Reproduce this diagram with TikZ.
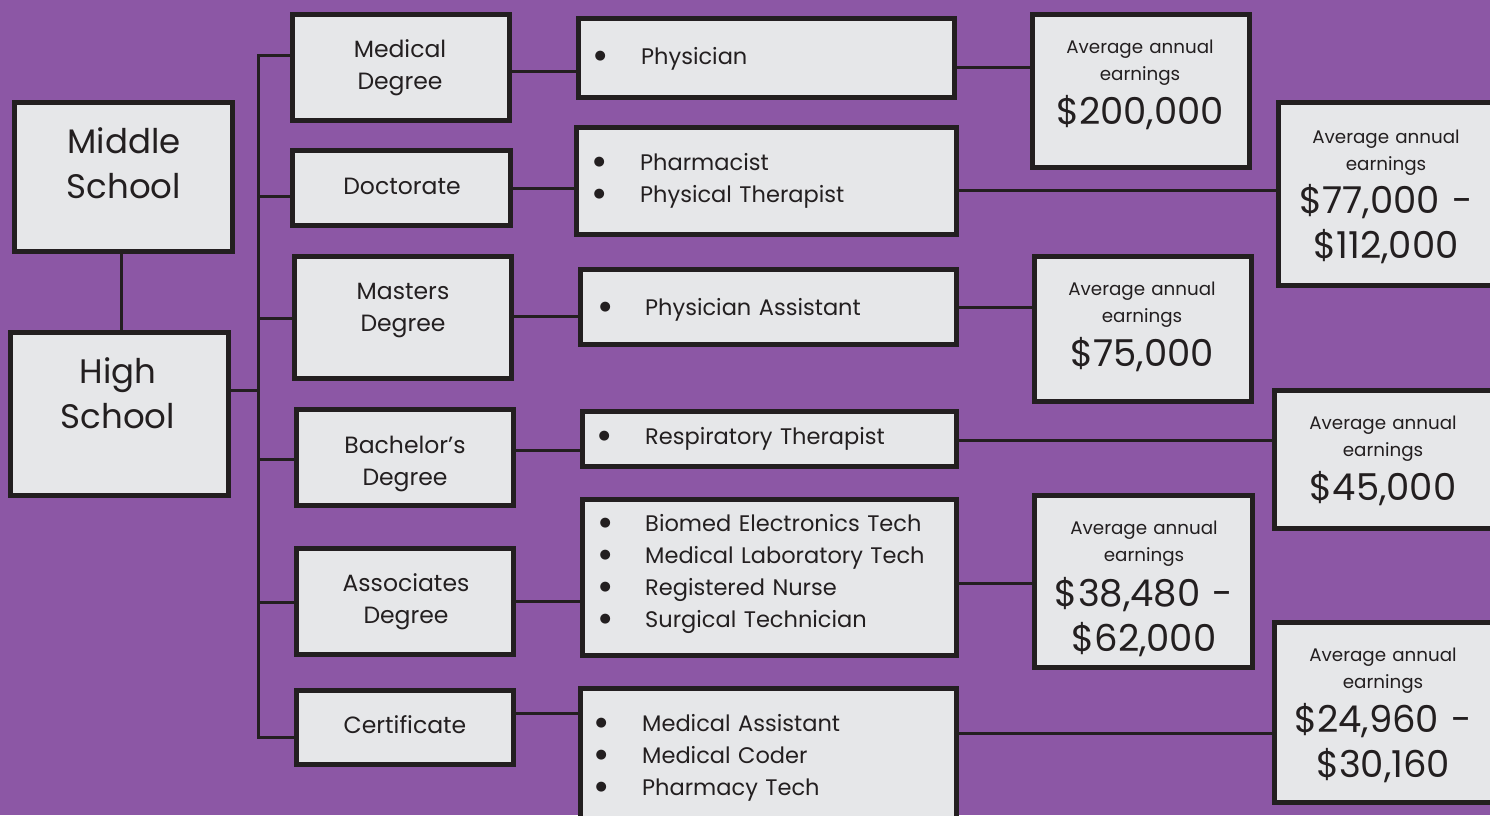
\documentclass[tikz,border=0pt]{standalone}
\usepackage{fontspec}
\setmainfont{Poppins}
\newfontfamily\symfont{DejaVu Sans}
\definecolor{bg}{RGB}{140,87,165}
\definecolor{boxfill}{RGB}{230,231,233}
\definecolor{boxline}{RGB}{35,31,32}
\definecolor{ink}{RGB}{35,31,32}
\begin{document}
\begin{tikzpicture}[x=1pt,y=-1pt,
  box/.style={draw=boxline,line width=5pt,fill=boxfill,rectangle,inner sep=0pt},
  conn/.style={draw=boxline,line width=3pt},
  txt/.style={anchor=base,inner sep=0pt,text width=300pt,align=center,text=ink},
  school/.style={txt,font=\fontsize{34}{45}\selectfont},
  deg/.style={txt,font=\fontsize{23.5}{32}\selectfont},
  lst/.style={anchor=base west,inner sep=0pt,text width=420pt,align=left,text=ink,font=\fontsize{22.5}{32.3}\selectfont},
  esm/.style={txt,font=\fontsize{18.3}{27}\selectfont},
  ebig/.style={txt,font=\fontsize{37}{45}\selectfont}]
\useasboundingbox (0,0) rectangle (1490,815);
\clip (0,0) rectangle (1490,815);
\fill[bg] (0,0) rectangle (1490,815);

% connectors
\coordinate (tt) at (258,55);
\coordinate (tb) at (258,737);
\draw[conn] (121,254) coordinate (msb) -- (121,330) coordinate (hst);
\draw[conn] (231,390) coordinate (hse) -- (tt |- hse);
\draw[conn] (290,55) coordinate (mdw) -- (tt) -- (tb) -- (294,737) coordinate (cerw);
\draw[conn] (tt |- 0,196) -- (290,196) coordinate (docw);
\draw[conn] (tt |- 0,318) -- (292,318) coordinate (masw);
\draw[conn] (tt |- 0,459) -- (294,459) coordinate (bacw);
\draw[conn] (tt |- 0,602) -- (294,602) coordinate (assw);

% boxes
\node[box,minimum width=218pt,minimum height=149pt] (ms) at (123.5,177) {};
\node[box,minimum width=218pt,minimum height=163pt] (hs) at (119.5,414) {};
\node[box,minimum width=217pt,minimum height=106pt] (md) at (401,67.5) {};
\node[box,minimum width=218pt,minimum height=75pt] (doc) at (401.5,188) {};
\node[box,minimum width=217pt,minimum height=122pt] (mas) at (403,317.5) {};
\node[box,minimum width=217pt,minimum height=96pt] (bac) at (405,457.5) {};
\node[box,minimum width=217pt,minimum height=106pt] (ass) at (405,601.5) {};
\node[box,minimum width=217pt,minimum height=74pt] (cer) at (405,727.5) {};

\node[box,minimum width=376pt,minimum height=79pt] (l1) at (766.5,58) {};
\node[box,minimum width=380pt,minimum height=107pt] (l2) at (766.5,181) {};
\node[box,minimum width=376pt,minimum height=75pt] (l3) at (768.5,307) {};
\node[box,minimum width=374pt,minimum height=55pt] (l4) at (769.5,439) {};
\node[box,minimum width=374pt,minimum height=156pt] (l5) at (769.5,577.5) {};
\node[box,minimum width=376pt,minimum height=149pt] (l6) at (768.5,763) {};

\node[box,minimum width=217pt,minimum height=153pt] (e1) at (1141,91) {};
\node[box,minimum width=229pt,minimum height=183pt] (e2) at (1393,194) {};
\node[box,minimum width=217pt,minimum height=145pt] (e3) at (1143,329) {};
\node[box,minimum width=233pt,minimum height=138pt] (e4) at (1391,459.5) {};
\node[box,minimum width=218pt,minimum height=172pt] (e5) at (1143.5,581.5) {};
\node[box,minimum width=233pt,minimum height=180pt] (e6) at (1391,712.5) {};

% box-to-box connectors
\draw[conn] (ms.south -| msb) -- (hs.north -| msb);
\draw[conn] (md.east |- 0,71) -- (l1.west |- 0,71);
\draw[conn] (doc.east |- 0,188) -- (l2.west |- 0,188);
\draw[conn] (mas.east |- 0,316) -- (l3.west |- 0,316);
\draw[conn] (bac.east |- 0,450) -- (l4.west |- 0,450);
\draw[conn] (ass.east |- 0,601) -- (l5.west |- 0,601);
\draw[conn] (cer.east |- 0,713) -- (l6.west |- 0,713);
\draw[conn] (l1.east |- 0,67) -- (e1.west |- 0,67);
\draw[conn] (l2.east |- 0,190) -- (e2.west |- 0,190);
\draw[conn] (l3.east |- 0,307) -- (e3.west |- 0,307);
\draw[conn] (l4.east |- 0,440) -- (e4.west |- 0,440);
\draw[conn] (l5.east |- 0,583) -- (e5.west |- 0,583);
\draw[conn] (l6.east |- 0,733) -- (e6.west |- 0,733);

% texts
\node[school] (tms) at (124,153) {Middle\\School};
\node[school] (ths) at (118,383) {High\\School};
\node[deg] (tmd) at (400,57) {Medical\\Degree};
\node[deg] (tdoc) at (402,194) {Doctorate};
\node[deg] (tmas) at (403,299) {Masters\\Degree};
\node[deg] (tbac) at (405,453) {Bachelor’s\\Degree};
\node[deg] (tass) at (406,591) {Associates\\Degree};
\node[deg] (tcer) at (405,733) {Certificate};

\newcommand\bul[1]{\makebox[#1pt][c]{\smash{\raisebox{5pt}{\symfont\fontsize{13}{13}\selectfont ●}}}}
\node[lst] (tl1) at (559,64) {\bul{82}Physician};
\node[lst] (tl2) at (558,170) {\bul{82}Pharmacist\\\bul{82}Physical Therapist};
\node[lst] (tl3) at (565,315) {\bul{80}Physician Assistant};
\node[lst] (tl4) at (563,444) {\bul{82}Respiratory Therapist};
\node[lst] (tl5) at (565,531) {\bul{80}Biomed Electronics Tech\\\bul{80}Medical Laboratory Tech\\\bul{80}Registered Nurse\\\bul{80}Surgical Technician};
\node[lst] (tl6) at (560,731) {\bul{82}Medical Assistant\\\bul{82}Medical Coder\\\bul{82}Pharmacy Tech};

\node[esm] (te1a) at (1140,53) {Average annual\\earnings};
\node[ebig] (te1b) at (1140,124) {\$200,000};
\node[esm] (te2a) at (1386,143) {Average annual\\earnings};
\node[ebig] (te2b) at (1386,213) {\$77,000 -\\\$112,000};
\node[esm] (te3a) at (1142,295) {Average annual\\earnings};
\node[ebig] (te3b) at (1142,366) {\$75,000};
\node[esm] (te4a) at (1383,429) {Average annual\\earnings};
\node[ebig] (te4b) at (1383,500) {\$45,000};
\node[esm] (te5a) at (1144,534) {Average annual\\earnings};
\node[ebig] (te5b) at (1144,606) {\$38,480 -\\\$62,000};
\node[esm] (te6a) at (1383,661) {Average annual\\earnings};
\node[ebig] (te6b) at (1383,732) {\$24,960 -\\\$30,160};
\end{tikzpicture}
\end{document}
